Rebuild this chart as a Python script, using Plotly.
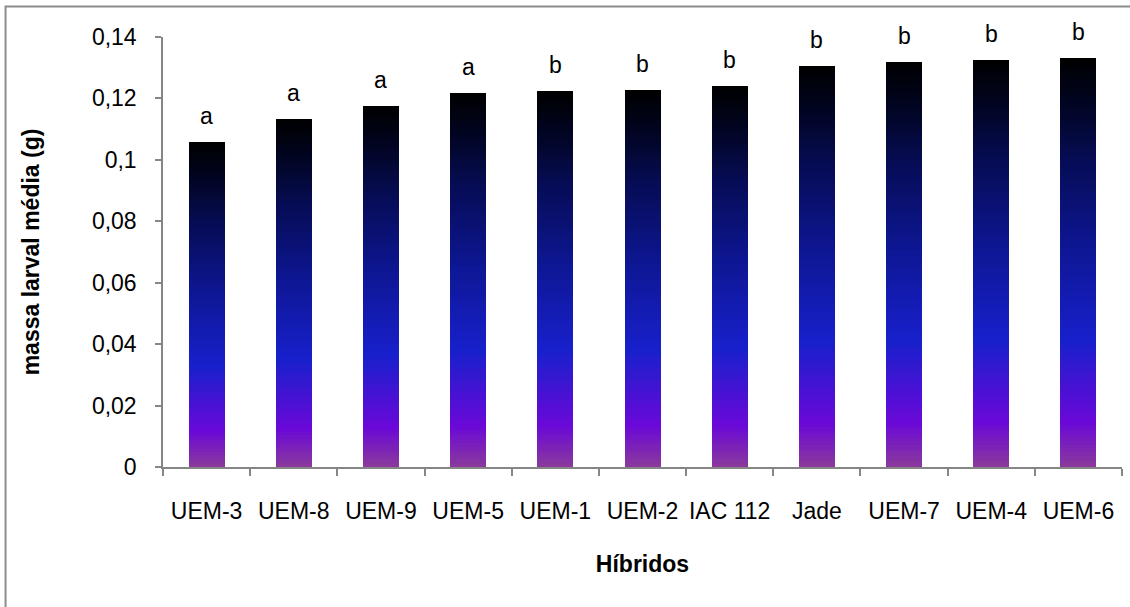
import plotly.graph_objects as go

categories = ["UEM-3", "UEM-8", "UEM-9", "UEM-5", "UEM-1", "UEM-2", "IAC 112", "Jade", "UEM-7", "UEM-4", "UEM-6"]
values = [0.1058, 0.1133, 0.1175, 0.1218, 0.1224, 0.1227, 0.1240, 0.1306, 0.1318, 0.1324, 0.1331]
letters = ["a", "a", "a", "a", "b", "b", "b", "b", "b", "b", "b"]
y_tickvals = [0, 0.02, 0.04, 0.06, 0.08, 0.10, 0.12, 0.14]
y_ticktext = ["0", "0,02", "0,04", "0,06", "0,08", "0,1", "0,12", "0,14"]

# gradient stops (fraction of bar height from bottom, colour)
stops = [
    (0.00, (0x8B, 0x3A, 0x9C)),
    (0.11, (0x6A, 0x08, 0xD8)),
    (0.31, (0x18, 0x20, 0xCC)),
    (0.55, (0x0D, 0x16, 0x90)),
    (0.75, (0x06, 0x0C, 0x55)),
    (0.90, (0x01, 0x04, 0x1E)),
    (1.00, (0x00, 0x00, 0x00)),
]


def grad(f):
    for (f0, c0), (f1, c1) in zip(stops[:-1], stops[1:]):
        if f <= f1:
            t = (f - f0) / (f1 - f0)
            return "rgb(%d,%d,%d)" % tuple(round(a + (b - a) * t) for a, b in zip(c0, c1))
    return "rgb(0,0,0)"


N = 110
FONT = "Liberation Sans"
FS = 23
fig = go.Figure()
for k in range(N):
    f = (k + 0.5) / N
    fig.add_trace(go.Bar(
        x=categories,
        y=[v / N for v in values],
        marker=dict(color=grad(f), line=dict(width=0)),
        showlegend=False,
        hoverinfo="skip",
    ))

for c, v, t in zip(categories, values, letters):
    fig.add_annotation(x=c, y=v, text=t, showarrow=False, yanchor="bottom", yshift=11,
                       font=dict(family=FONT, size=FS, color="black"))

fig.add_shape(type="rect", xref="paper", yref="paper", x0=-0.1642, x1=1.0115, y0=-0.34, y1=1.0709,
              line=dict(color="#8c8c8c", width=2), fillcolor="rgba(0,0,0,0)", layer="below")

fig.update_layout(
    barmode="stack",
    bargap=0.587,
    width=1130,
    height=607,
    margin=dict(l=163, r=8, t=37, b=140, autoexpand=False),
    paper_bgcolor="white",
    plot_bgcolor="white",
    font=dict(family=FONT, size=FS, color="black"),
    xaxis=dict(
        type="category",
        automargin=False,
        tickangle=0,
        showline=True, linecolor="#868686", linewidth=1.5,
        ticks="outside", tickson="boundaries", ticklen=7, tickcolor="#868686", tickwidth=1.5,
        ticklabelstandoff=23,
        tickfont=dict(family=FONT, size=FS),
        title=dict(text="<b>Híbridos</b>", font=dict(family=FONT, size=FS), standoff=33),
        showgrid=False,
    ),
    yaxis=dict(
        range=[0, 0.14],
        automargin=False,
        tickvals=y_tickvals, ticktext=y_ticktext,
        showline=True, linecolor="#868686", linewidth=1.5,
        ticks="outside", ticklen=6, tickcolor="#868686", tickwidth=1.5,
        ticklabelstandoff=14,
        tickfont=dict(family=FONT, size=FS),
        title=dict(text="<b>massa larval média (g)</b>", font=dict(family=FONT, size=FS), standoff=46),
        showgrid=False, zeroline=False,
    ),
)

fig.write_html("out.html")
